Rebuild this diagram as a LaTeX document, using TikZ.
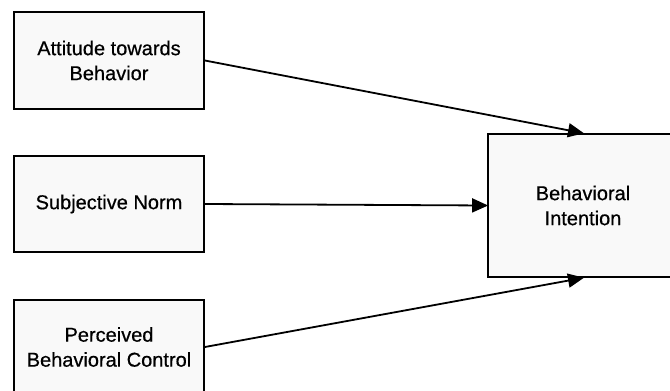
\documentclass[tikz,border=0pt]{standalone}
\usepackage{fontspec}
\setmainfont{Liberation Sans}
\newfontfamily\labelfont{Liberation Sans}[FakeBold=0.6]
\usetikzlibrary{arrows.meta}
\begin{document}
\begin{tikzpicture}[x=1pt,y=-1pt,
  box/.style={draw=black, line width=1.8pt, fill=black!2.5, align=center,
    font=\labelfont\fontsize{20}{25}\selectfont, inner sep=0pt},
  link/.style={draw=black, line width=1.8pt,
    -{Triangle[length=16pt,width=14pt]}, shorten >=-1pt}]
  \useasboundingbox (0,0) rectangle (670,391);
  \clip (0,0) rectangle (670,391);
  % predictor boxes
  \node[box, minimum width=190pt, minimum height=97pt] (att) at (109,60.5)
    {Attitude towards\\Behavior};
  \node[box, minimum width=190pt, minimum height=96pt] (norm) at (109,204)
    {Subjective Norm};
  \node[box, minimum width=190pt, minimum height=94pt] (pbc) at (109,347)
    {Perceived\\Behavioral Control};
  % outcome box
  \node[box, minimum width=190pt, minimum height=143pt] (bi) at (583,205.5)
    {Behavioral\\Intention};
  % paths
  \draw[link] (att.east) -- (bi.north);
  \draw[link] (norm.east) -- (bi.west);
  \draw[link] (pbc.east) -- (bi.south);
\end{tikzpicture}
\end{document}
